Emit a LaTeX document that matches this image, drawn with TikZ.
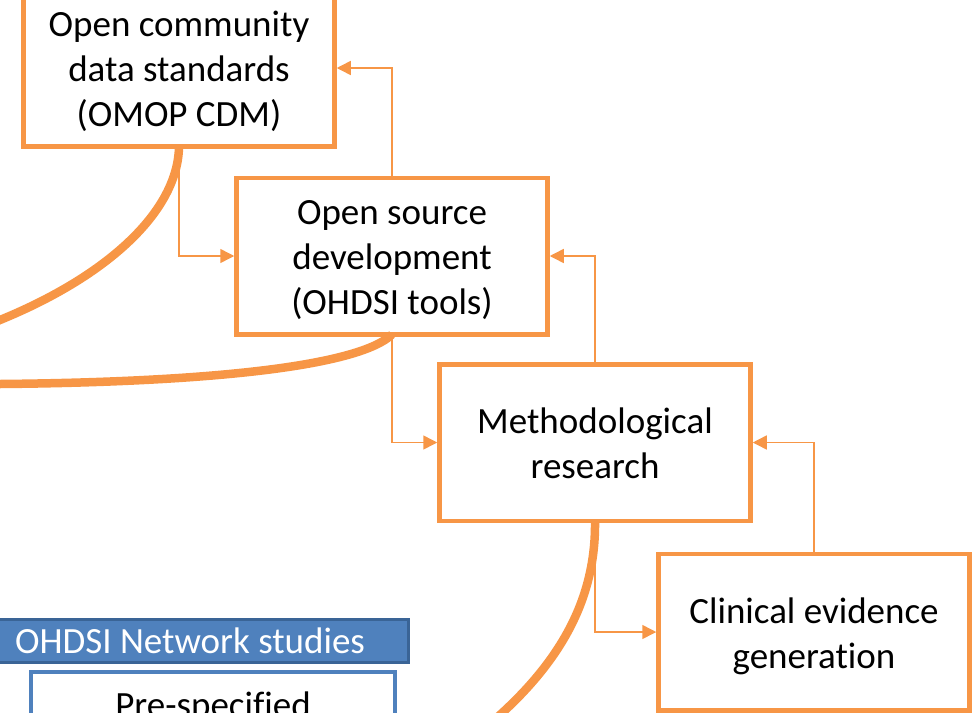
\documentclass[tikz,border=0pt]{standalone}
\usepackage{fontspec}
\setmainfont{Carlito}[Ligatures=NoCommon]
\usetikzlibrary{arrows.meta}
\definecolor{ora}{HTML}{F79646}
\definecolor{blu}{HTML}{4F81BD}
\definecolor{bluedark}{HTML}{3A6496}
\newcommand{\topstrut}{\rule{0pt}{38pt}}
\newcommand{\botstrut}{\rule[-11pt]{0pt}{11pt}}
\begin{document}
\begin{tikzpicture}[x=1pt,y=-1pt,
  stagebox/.style={draw=ora, line width=4.5pt, fill=white, minimum width=311pt,
    minimum height=156.5pt, align=center, inner sep=0pt,
    font=\fontsize{37}{45}\selectfont},
  link/.style={draw=ora, line width=1.5pt, -{Triangle[length=14pt,width=14pt]}},
  flow/.style={draw=ora, line width=8.5pt},
  netbar/.style={draw=bluedark, line width=3pt, fill=blu, text=white,
    minimum width=436pt, minimum height=43pt, inner sep=0pt,
    font=\fontsize{37}{45}\selectfont},
  preframe/.style={draw=blu, line width=4pt, fill=white},
  pretext/.style={font=\fontsize{37}{45}\selectfont, inner sep=0pt, anchor=base}]
\useasboundingbox (0,0) rectangle (974,712);
\clip (0,0) rectangle (974,712);

\node[stagebox] (b1) at (179,68) {\topstrut Open community\\data standards\\(OMOP CDM)\botstrut};
\node[stagebox] (b2) at (392,256) {\topstrut Open source\\development\\(OHDSI tools)\botstrut};
\node[stagebox] (b3) at (595,442.5) {\topstrut Methodological\\research\botstrut};
\node[stagebox] (b4) at (814,632) {\topstrut Clinical evidence\\generation\botstrut};

\draw[link] (b2.north) |- (b1.east);
\draw[link] (b1.south) |- (b2.west);
\draw[link] (b3.north) |- (b2.east);
\draw[link] (b2.south) |- (b3.west);
\draw[link] (b4.north) |- (b3.east);
\draw[link] (b3.south) |- (b4.west);

\draw[flow] ([yshift=2pt]b1.south) .. controls (178,210) and (110,275) .. (0,320) -- (-30,332.5);
\draw[flow] ([yshift=2pt]b2.south) .. controls (360,365) and (220,382) .. (0,384) -- (-30,384);
\draw[flow] ([yshift=2pt]b3.south) .. controls (596,600) and (560,670) .. (470,740);

\node[netbar] (net) at (190,640.5) {OHDSI Network studies};
\draw[preframe] (31,672) rectangle (395,800);
\node[pretext] (pre) at (213,717) {Pre-specified};
\end{tikzpicture}
\end{document}
